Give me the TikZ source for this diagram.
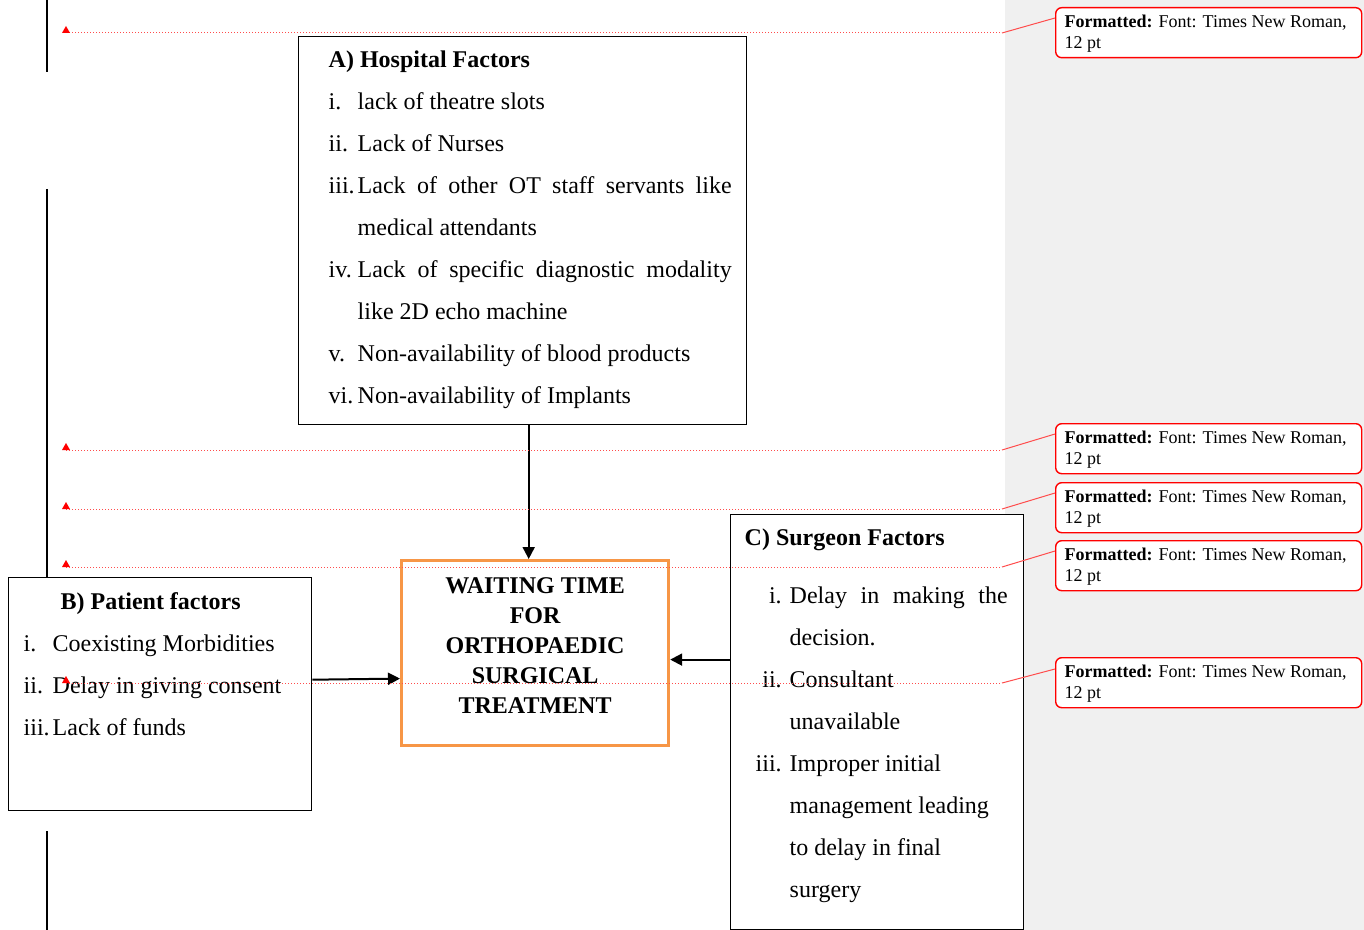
\documentclass[tikz,border=0pt]{standalone}
\usepackage{fontspec}
\setmainfont{Liberation Serif}
\usetikzlibrary{arrows.meta}

\definecolor{sidegray}{RGB}{240,240,240}
\definecolor{waitorange}{RGB}{247,150,70}

% list items: label box, then hanging text
\newcommand{\itemL}[2]{\par\noindent\hangindent=14.5pt\hangafter=1\makebox[14.5pt][l]{#1}#2}
\newcommand{\itemR}[2]{\par\noindent\hangindent=22.5pt\hangafter=1\makebox[22.5pt][r]{#1\hspace{4pt}}#2}
% text of a comment balloon
\newcommand{\fmtnote}{\parbox[t][25pt][t]{153pt}{\fontsize{9}{10.5}\selectfont\leftskip=4.5pt\noindent\rule{0pt}{10pt}\textbf{Formatted:} Font: Times New Roman,\\12 pt}}
% red insertion mark
\newcommand{\anchmark}[1]{\fill[red] ([xshift=-2pt]#1) -- ([xshift=2pt]#1) -- ([yshift=3.5pt]#1) -- cycle;}

\begin{document}
\begin{tikzpicture}[x=0.5pt,y=-0.5pt]

    \useasboundingbox (0,0) rectangle (1364,930);
    \fill[sidegray] (1005,0) rectangle (1364,930);

    % margin bar %
    \draw[line width=1pt] (47,0) -- (47,72);
    \draw[line width=1pt] (47,189) -- (47,577);
    \draw[line width=1pt] (47,831) -- (47,930);

    \begin{scope}[every node/.style={draw,line width=0.7pt,fill=white,inner sep=0pt,anchor=north west}]
        \node (hosp) at (298,36) {\parbox[t][194pt][t]{224pt}{\fontsize{12}{21}\selectfont\parskip=0pt\leftskip=15pt\rightskip=7.5pt
            \noindent\rule{0pt}{15.5pt}\textbf{A) Hospital Factors}
            \itemL{i.}{lack of theatre slots}
            \itemL{ii.}{Lack of Nurses}
            \itemL{iii.}{Lack of other OT staff servants like\linebreak medical attendants}
            \itemL{iv.}{Lack of specific diagnostic modality\linebreak like 2D echo machine}
            \itemL{v.}{Non-availability of blood products}
            \itemL{vi.}{Non-availability of Implants}\par}};

        \node (pat) at (8,577) {\parbox[t][116.5pt][t]{151.5pt}{\fontsize{12}{21}\selectfont\parskip=0pt\leftskip=7.5pt\rightskip=4pt
            \noindent\rule{0pt}{16pt}\hspace*{18.5pt}\textbf{B) Patient factors}
            \itemL{i.}{Coexisting Morbidities}
            \itemL{ii.}{Delay in giving consent}
            \itemL{iii.}{Lack of funds}\par}};

        \node (surg) at (730,514) {\parbox[t][207.5pt][t]{146.5pt}{\fontsize{12}{21}\selectfont\parskip=0pt\leftskip=7pt\rightskip=8pt
            \noindent\rule{0pt}{15.5pt}\textbf{C) Surgeon Factors}\par\vspace{8pt}
            \itemR{i.}{Delay in making the\linebreak decision.}
            \itemR{ii.}{Consultant\\ unavailable}
            \itemR{iii.}{Improper initial\\ management leading\\ to delay in final\\ surgery}\par}};
    \end{scope}

    \node[draw=waitorange,line width=1.6pt,fill=white,inner sep=0pt,anchor=north west] (wait) at (400,559)
        {\parbox[t][92.5pt][t]{133.5pt}{\centering\fontsize{12}{15}\selectfont\bfseries
         \rule{0pt}{16.5pt}WAITING TIME\\FOR\\ORTHOPAEDIC\\SURGICAL\\TREATMENT\par}};

    % causes into the waiting time %
    \begin{scope}[every path/.style={line width=1pt,-{Triangle[length=6pt,width=6pt]}}]
        \draw ([xshift=3pt]hosp.south) -- ([xshift=3pt]hosp.south |- wait.north);
        \draw ([yshift=7.25pt]pat.east) -- ([yshift=-12.75pt]wait.west);
        \draw ([yshift=-3.25pt]wait.east -| surg.west) -- ([yshift=-3.25pt]wait.east);
    \end{scope}

    % comment balloons %
    \begin{scope}[every node/.style={draw=red,line width=0.7pt,fill=white,rounded corners=3pt,inner sep=0pt,anchor=north west}]
        \node (c1) at (1055,7) {\fmtnote};
        \node (c2) at (1055,423) {\fmtnote};
        \node (c3) at (1055,482) {\fmtnote};
        \node (c4) at (1055,540) {\fmtnote};
        \node (c5) at (1055,657) {\fmtnote};
    \end{scope}

    \coordinate (m1) at (66,33);
    \coordinate (m2) at (66,450);
    \coordinate (m3) at (66,509);
    \coordinate (m4) at (66,567);
    \coordinate (m5) at (66,683);

    % markup lines %
    \begin{scope}[every path/.style={red!70,line width=0.5pt}]
        \draw[densely dotted] (m1) -- ++(936,0) coordinate (e1);
        \draw[densely dotted] (m2) -- ++(936,0) coordinate (e2);
        \draw[densely dotted] (m3) -- ++(936,0) coordinate (e3);
        \draw[densely dotted] (m4) -- ++(936,0) coordinate (e4);
        \draw[densely dotted] (m5) -- ++(936,0) coordinate (e5);
        \draw (e1) -- ([yshift=-5.5pt]c1.north west);
        \draw (e2) -- ([yshift=-5.5pt]c2.north west);
        \draw (e3) -- ([yshift=-5.5pt]c3.north west);
        \draw (e4) -- ([yshift=-5.5pt]c4.north west);
        \draw (e5) -- ([yshift=-6pt]c5.north west);
    \end{scope}
    \anchmark{m1}
    \anchmark{m2}
    \anchmark{m3}
    \anchmark{m4}
    \anchmark{m5}

\end{tikzpicture}
\end{document}
